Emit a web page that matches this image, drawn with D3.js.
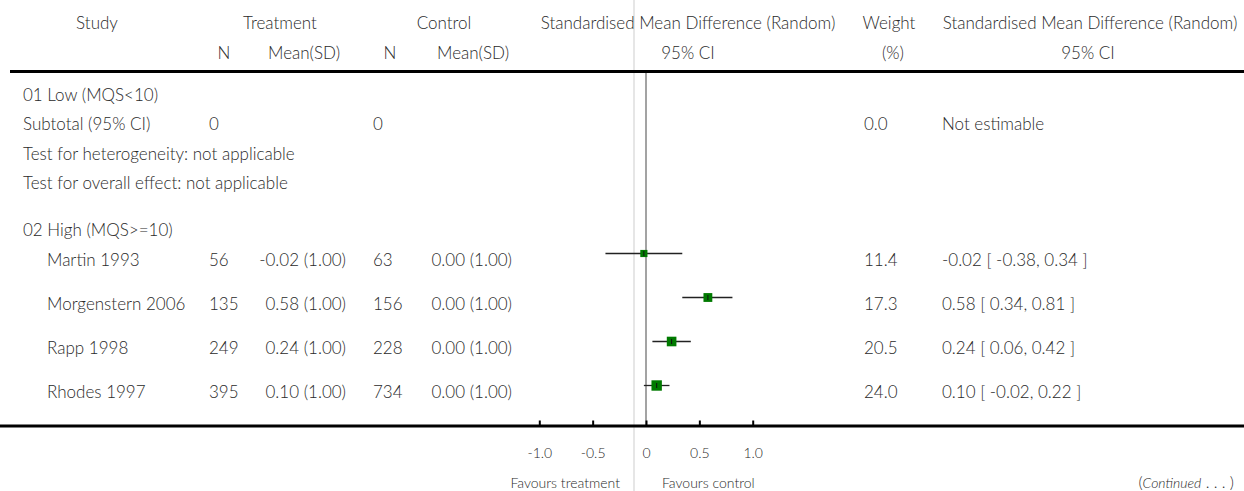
<!DOCTYPE html>
<html>
<head>
<meta charset="utf-8">
<script src="https://cdn.jsdelivr.net/npm/d3@7"></script>
<style>
  html, body { margin: 0; padding: 0; background: #fff; }
  svg text { font-family: Lato, "Open Sans", sans-serif; fill: #2a2a2a; font-weight: 300; }
</style>
</head>
<body>
<svg id="chart" width="1244" height="491"></svg>
<script>
// ---- data ----
const studies = ["Martin 1993", "Morgenstern 2006", "Rapp 1998", "Rhodes 1997"];
const treatN = [56, 135, 249, 395];
const treatMean = [-0.02, 0.58, 0.24, 0.10];
const treatSD = [1.00, 1.00, 1.00, 1.00];
const controlN = [63, 156, 228, 734];
const controlMean = [0.00, 0.00, 0.00, 0.00];
const controlSD = [1.00, 1.00, 1.00, 1.00];
const smd = [-0.02, 0.58, 0.24, 0.10];
const ciLow = [-0.38, 0.34, 0.06, -0.02];
const ciHigh = [0.34, 0.81, 0.42, 0.22];
const weights = [11.4, 17.3, 20.5, 24.0];
const axisTicks = [-1, -0.5, 0, 0.5, 1];
const axisTickLabels = ["-1.0", "-0.5", "0", "0.5", "1.0"];
const subgroup1 = "01 Low (MQS<10)";
const subgroup2 = "02 High (MQS>=10)";
const subtotalTreatN = 0, subtotalControlN = 0, subtotalWeight = 0.0;

// ---- setup ----
const svg = d3.select("#chart");
const W = 1244, H = 491;
const F = 17;
const hy = s => s.replace(/\u2212/g, "-");
const f2 = v => hy(d3.format(".2f")(v)), f1 = v => hy(d3.format(".1f")(v));

const x = d3.scaleLinear().domain([-1, 1]).range([539.3, 752.7]);
const yRow = d3.scalePoint().domain(studies).range([266, 398]);
const sq = d3.scaleSqrt().domain([0, 24]).range([0, 10.4]);

// light background vertical line
svg.append("line").attr("x1", 634).attr("x2", 634).attr("y1", 0).attr("y2", H)
  .attr("stroke", "#e6e6e6").attr("stroke-width", 2);

function txt(s, xx, yy, anchor, size) {
  return svg.append("text").attr("x", xx).attr("y", yy)
    .attr("text-anchor", anchor || "start")
    .style("font-size", (size || F) + "px").text(s);
}

// headers
txt("Study", 97, 29, "middle");
txt("Treatment", 280, 29, "middle");
txt("Control", 444, 29, "middle");
txt("Standardised Mean Difference (Random)", 688, 29, "middle");
txt("Weight", 889, 29, "middle");
txt("Standardised Mean Difference (Random)", 1090, 29, "middle");
txt("N", 224, 59, "middle");
txt("Mean(SD)", 304, 59, "middle");
txt("N", 390, 59, "middle");
txt("Mean(SD)", 473, 59, "middle");
txt("95% CI", 688, 59, "middle");
txt("(%)", 893, 59, "middle");
txt("95% CI", 1088, 59, "middle");

// header rule
svg.append("line").attr("x1", 10).attr("x2", W).attr("y1", 71.5).attr("y2", 71.5)
  .attr("stroke", "#000").attr("stroke-width", 3);

// zero line
svg.append("line").attr("x1", x(0)).attr("x2", x(0)).attr("y1", 73).attr("y2", 425)
  .attr("stroke", "#666").attr("stroke-width", 1.2);

// subgroup 1
txt(subgroup1, 23, 101);
txt("Subtotal (95% CI)", 23, 130);
txt(String(subtotalTreatN), 209, 130);
txt(String(subtotalControlN), 373, 130);
txt(f1(subtotalWeight), 864, 130);
txt("Not estimable", 942, 130);
txt("Test for heterogeneity: not applicable", 23, 160);
txt("Test for overall effect: not applicable", 23, 189);

// subgroup 2
txt(subgroup2, 23, 236);

studies.forEach((s, i) => {
  const yy = yRow(s);
  txt(s, 47, yy);
  txt(String(treatN[i]), 209, yy);
  txt(f2(treatMean[i]) + " (" + f2(treatSD[i]) + ")", 346, yy, "end");
  txt(String(controlN[i]), 373, yy);
  txt(f2(controlMean[i]) + " (" + f2(controlSD[i]) + ")", 512, yy, "end");
  txt(f1(weights[i]), 864, yy);
  txt(f2(smd[i]) + " [ " + f2(ciLow[i]) + ", " + f2(ciHigh[i]) + " ]", 942, yy);
});

// forest marks
const marks = svg.append("g");
studies.forEach((s, i) => {
  const cy = yRow(s) - 12.5;
  marks.append("line").attr("x1", x(ciLow[i])).attr("x2", x(ciHigh[i]))
    .attr("y1", cy).attr("y2", cy).attr("stroke", "#222").attr("stroke-width", 1.3);
  const side = sq(weights[i]);
  marks.append("rect").attr("x", x(smd[i]) - side / 2).attr("y", cy - side / 2)
    .attr("width", side).attr("height", side).attr("fill", "#007a00");
  marks.append("line").attr("x1", x(smd[i])).attr("x2", x(smd[i]))
    .attr("y1", cy - 2.5).attr("y2", cy + 2.5).attr("stroke", "#111").attr("stroke-width", 1);
});

// axis
const axisY = 426;
const axis = d3.axisBottom(x).tickValues(axisTicks)
  .tickFormat((d, i) => axisTickLabels[i]).tickSize(-5.5).tickPadding(22);
const ag = svg.append("g").attr("transform", `translate(0,${axisY})`).call(axis);
ag.select(".domain").remove();
ag.selectAll(".tick line").attr("stroke", "#000").attr("stroke-width", 2);
ag.selectAll(".tick text").style("font-size", "14px")
  .style("font-family", "Lato, sans-serif").style("font-weight", 300).attr("fill", "#2a2a2a");
svg.append("line").attr("x1", 0).attr("x2", W).attr("y1", axisY).attr("y2", axisY)
  .attr("stroke", "#000").attr("stroke-width", 3);

txt("Favours treatment", 620, 488, "end", 14);
txt("Favours control", 662, 488, "start", 14);

const cont = svg.append("text").attr("x", 1234).attr("y", 488).attr("text-anchor", "end")
  .style("font-size", "16px");
cont.append("tspan").text("(");
cont.append("tspan").style("font-style", "italic").style("font-size", "14px").text("Continued");
cont.append("tspan").text(" . . . )");
</script>
</body>
</html>
